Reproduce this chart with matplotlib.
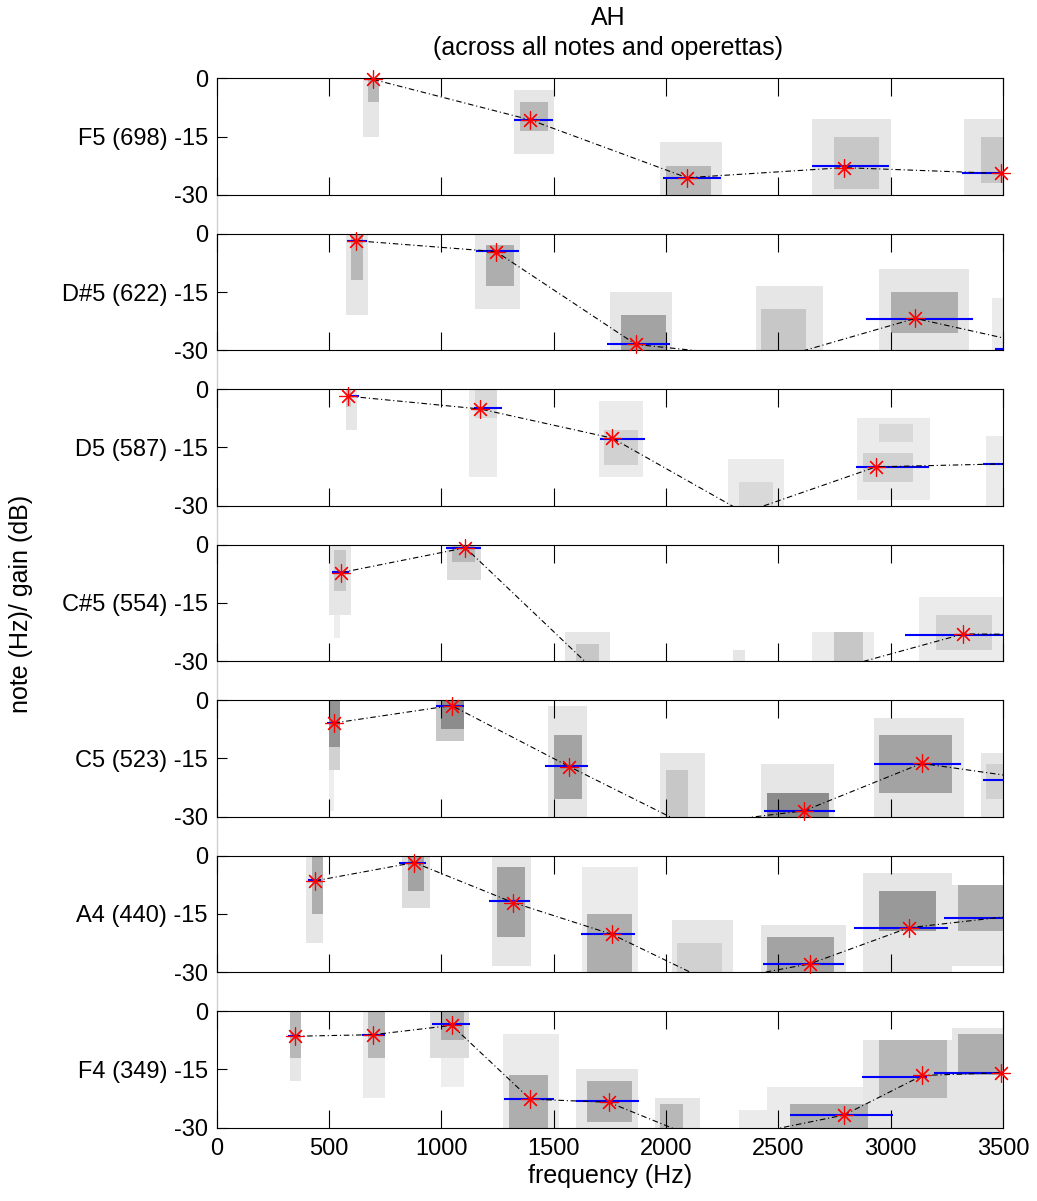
import numpy as np
import matplotlib
matplotlib.use('Agg')
from matplotlib import pyplot as plt
from matplotlib.lines import Line2D

plt.rcParams['font.family'] = ['Liberation Sans', 'DejaVu Sans']
plt.rcParams['font.size'] = 17

# notas (de arriba hacia abajo) y su frecuencia fundamental
notes = ['F5', 'D#5', 'D5', 'C#5', 'C5', 'A4', 'F4']
f0s = [698, 622, 587, 554, 523, 440, 349]

# ganancia (dB) de cada armonico k*f0, k = 1, 2, ...
amps = [
    [-0.3, -10.7, -25.6, -23.0, -24.5],
    [-1.8, -4.6, -28.5, -32.2, -21.8, -29.8],
    [-1.8, -5.1, -12.6, -31.8, -20.0, -19.2],
    [-7.2, -0.8, -31.3, -35.0, -31.8, -23.0, -23.2],
    [-5.9, -1.4, -17.1, -32.2, -28.5, -16.3, -20.6],
    [-6.5, -1.8, -12.1, -20.3, -32.6, -27.9, -18.6, -15.7],
    [-6.5, -6.1, -3.7, -22.7, -23.5, -31.7, -30.9, -26.8, -16.6, -15.9],
]

# segmentos azules: (f desde, f hasta, dB)
bands = [
    [(665, 741, -0.3), (1324, 1497, -10.7), (1987, 2245, -25.6), (2650, 2993, -22.7), (3317, 3500, -24.5)],
    [(582, 671, -1.8), (1155, 1347, -4.5), (1737, 2020, -28.5), (2890, 3367, -21.9), (3465, 3500, -29.8)],
    [(584, 635, -1.7), (1148, 1269, -4.9), (1708, 1906, -12.8), (2845, 3169, -20.0), (3413, 3500, -19.3)],
    [(516, 589, -7.0), (1023, 1178, -0.9), (3066, 3500, -23.3)],
    [(491, 548, -5.9), (977, 1103, -1.4), (1461, 1653, -17.0), (2438, 2753, -28.5), (2924, 3313, -16.4), (3413, 3500, -20.6)],
    [(406, 463, -6.4), (813, 931, -1.8), (1212, 1395, -11.8), (1621, 1861, -20.2), (2431, 2792, -27.9), (2838, 3256, -18.6), (3237, 3500, -16.0)],
    [(320, 372, -6.4), (646, 749, -6.1), (961, 1126, -3.4), (1279, 1502, -22.6), (1598, 1879, -23.3), (2553, 3009, -26.8), (2872, 3164, -16.9), (3192, 3500, -15.9)],
]

# nubes del histograma: (f desde, f hasta, dB arriba, dB abajo, nivel de gris)
clouds = [
    [(660, 730, 0, -15, 0.1), (670, 720, 0, -6, 0.28),
     (1320, 1500, -2.5, -19.5, 0.1), (1340, 1480, -6, -14, 0.28),
     (1985, 2245, -16, -30, 0.1), (2000, 2200, -22, -30, 0.28),
     (2650, 3000, -10, -30, 0.1), (2750, 2950, -15, -28, 0.22),
     (3320, 3500, -10, -30, 0.1), (3400, 3500, -15, -27, 0.22)],
    [(585, 675, 0, -21, 0.1), (595, 660, 0, -12, 0.28),
     (1155, 1347, 0, -19, 0.1), (1200, 1320, -3, -14, 0.32),
     (1742, 2016, -15, -30, 0.1), (1790, 1990, -21, -30, 0.36),
     (2404, 2690, -13, -30, 0.1), (2430, 2620, -20, -30, 0.22),
     (2940, 3351, -9, -30, 0.1), (2990, 3300, -15, -26, 0.32),
     (3454, 3500, -16, -30, 0.08)],
    [(566, 623, 0, -10, 0.1), (575, 610, 0, -5, 0.22),
     (1137, 1262, 0, -23, 0.08), (1150, 1240, 0, -8, 0.15),
     (1708, 1902, -3, -23, 0.08), (1730, 1880, -10, -19, 0.18),
     (2278, 2530, -18, -30, 0.08), (2320, 2480, -24, -30, 0.15),
     (2838, 3169, -7.7, -28, 0.08), (2880, 3100, -17, -24, 0.18), (2950, 3100, -9, -14, 0.15),
     (3420, 3500, -12, -30, 0.08)],
    [(509, 589, 0, -18, 0.1), (520, 580, -2, -12, 0.22), (530, 560, -18, -24, 0.07),
     (1023, 1171, 0, -9, 0.14), (1050, 1150, 0, -5, 0.28),
     (1548, 1753, -22, -30, 0.1), (1600, 1700, -25, -30, 0.22),
     (2301, 2347, -27, -30, 0.1),
     (2644, 2918, -22, -30, 0.08), (2750, 2880, -23, -30, 0.22),
     (3135, 3500, -13, -30, 0.08), (3200, 3450, -18, -27, 0.18)],
    [(491, 555, 0, -18, 0.18), (500, 545, 0, -12, 0.42), (510, 535, -18, -28, 0.07),
     (982, 1103, 0, -11, 0.22), (1000, 1090, 0, -7, 0.45),
     (1468, 1651, -2, -30, 0.1), (1490, 1630, -9, -25, 0.36),
     (1970, 2187, -13, -30, 0.1), (2000, 2100, -18, -30, 0.22),
     (2427, 2747, -16, -30, 0.1), (2450, 2720, -24, -30, 0.45),
     (2918, 3317, -4, -30, 0.1), (2960, 3280, -9, -24, 0.36),
     (3397, 3500, -14, -30, 0.1), (3420, 3500, -17, -25, 0.18)],
    [(406, 475, 0, -22.7, 0.1), (415, 465, 0, -15, 0.32),
     (813, 943, 0, -13.7, 0.14), (840, 920, 0, -9, 0.36),
     (1217, 1388, 0, -28, 0.1), (1240, 1370, -3, -21, 0.36),
     (1616, 1863, -3, -30, 0.08), (1640, 1840, -15, -30, 0.32),
     (2016, 2301, -16, -30, 0.1), (2060, 2260, -22, -30, 0.18),
     (2427, 2792, -18, -30, 0.1), (2460, 2760, -21, -30, 0.36),
     (2883, 3271, -4.6, -30, 0.1), (2940, 3200, -9, -20, 0.4),
     (3283, 3500, -7, -29, 0.1), (3300, 3500, -8, -19, 0.32)],
    [(315, 383, 0, -17.8, 0.1), (325, 375, 0, -12, 0.28),
     (646, 760, 0, -22, 0.08), (680, 740, 0, -12, 0.28),
     (954, 1137, 0, -12, 0.14), (990, 1100, 0, -7, 0.32), (1000, 1100, -12, -19, 0.07),
     (1274, 1514, -6, -30, 0.08), (1300, 1480, -17, -30, 0.32),
     (1598, 1886, -15, -30, 0.1), (1640, 1860, -18, -29, 0.32),
     (1947, 2153, -22, -30, 0.1), (1980, 2080, -24, -30, 0.28),
     (2324, 2484, -26, -30, 0.08),
     (2438, 3009, -19.5, -30, 0.08), (2560, 2900, -24, -30, 0.32),
     (2872, 3283, -7, -30, 0.1), (2950, 3250, -8, -22, 0.28),
     (3283, 3500, -4.5, -30, 0.1), (3300, 3500, -6, -17, 0.32)],
]

f_edges = np.arange(0, 3501, 25)
db_edges = np.arange(-30, 0.01, 1.5)
fc = (f_edges[:-1] + f_edges[1:]) / 2
dc = (db_edges[:-1] + db_edges[1:]) / 2

W, H = 1037, 1201
fig = plt.figure(figsize=(W / 100, H / 100), dpi=100)
left = 216.5 / W
width = 786.5 / W
ph = 116.5
step = 155.45
top0 = 78.3

# linea gris entre paneles
fig.add_artist(Line2D([left, left], [1 - (top0 + 6 * step) / H, 1 - (top0 + ph) / H],
                      color='#d0d0d0', lw=1, zorder=0))

for i in range(len(notes)):
    top = top0 + i * step
    ax = fig.add_axes([left, 1 - (top + ph) / H, width, ph / H])

    grid = np.zeros((len(dc), len(fc)))
    for a, b, t, bt, lv in clouds[i]:
        m = (fc >= a) & (fc <= b)
        n = (dc <= t) & (dc >= bt)
        sub = np.ix_(n, m)
        grid[sub] = np.maximum(grid[sub], lv)
    ax.pcolormesh(f_edges, db_edges, grid, cmap='gray_r', vmin=0, vmax=1, zorder=1)

    for lo, hi, d in bands[i]:
        ax.hlines(d, lo, hi, colors='#0000ff', lw=1.5, zorder=2)

    h = f0s[i] * np.arange(1, len(amps[i]) + 1)
    a = np.array(amps[i])
    ax.plot(h, a, color='k', lw=0.8, ls=(0, (5, 2.5, 1, 2.5)), zorder=3)
    vis = (h <= 3500) & (a >= -30)
    for mk in [(4, 2, 0), (4, 2, 45)]:
        ax.plot(h[vis], a[vis], ls='none', marker=mk, ms=13, mec='#ff0000',
                mew=0.85, zorder=4, clip_on=False)

    ax.set_xlim(0, 3500)
    ax.set_ylim(-30, 0)
    ax.set_xticks(range(0, 3501, 500))
    ax.set_yticks([-30, -15, 0])
    ax.set_yticklabels(['-30', notes[i] + ' (' + str(f0s[i]) + ') -15', '0'])
    ax.tick_params(axis='x', direction='in', length=13, width=0.8, top=True, pad=7.5)
    ax.tick_params(axis='y', direction='in', length=7, width=0.8, pad=6.3)
    for s in ax.spines.values():
        s.set_linewidth(0.8)
    if i < len(notes) - 1:
        ax.tick_params(labelbottom=False)
    else:
        ax.set_xlabel('frequency (Hz)', labelpad=3, fontsize=18)

fig.text(608 / W, 1 - 18 / H, 'AH', ha='center', va='center', fontsize=18)
fig.text(608 / W, 1 - 48 / H, '(across all notes and operettas)', ha='center', va='center', fontsize=18)
fig.text(21 / W, 1 - 603.5 / H, 'note (Hz)/ gain (dB)', rotation=90, ha='center', va='center', fontsize=18)

fig.savefig('out.png', dpi=100)
